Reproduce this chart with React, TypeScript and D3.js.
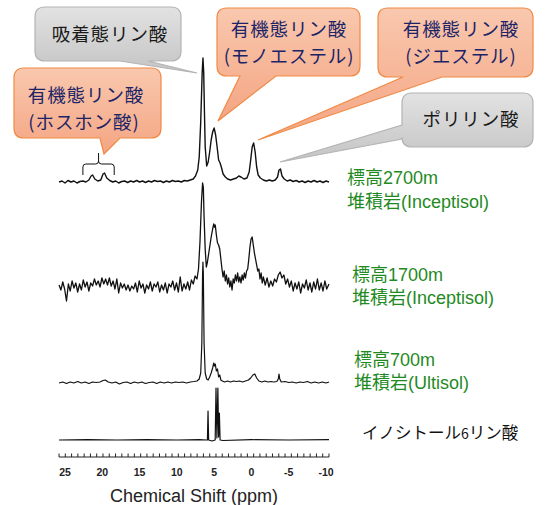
import React from "react";
import * as d3 from "d3";

// ---------- DATA (ppm, relative intensity) ----------
const tickLabels = [25, 20, 15, 10, 5, 0, -5, -10];

const spec2700: [number, number][] = [
  [25.8, 0], [25.4, 1], [25.0, -1], [24.6, 1.5], [24.2, 0], [23.8, 1], [23.4, -1], [23.0, 0.5], [22.6, 1],
  [22.2, 0], [21.8, 2], [21.5, 6], [21.3, 7], [21.0, 3], [20.6, 1], [20.2, 2], [19.9, 8], [19.7, 9], [19.4, 4],
  [19.0, 1.5], [18.6, 0], [18.2, 1], [17.8, -1], [17.4, 0.5], [17.0, 1], [16.6, -0.5], [16.2, 1], [15.8, 0],
  [15.4, 1.5], [15.0, 0], [14.6, 1], [14.2, -0.5], [13.8, 1], [13.4, 0], [13.0, 1.5], [12.6, 0.5], [12.2, 1],
  [11.8, -0.5], [11.4, 1], [11.0, 0], [10.6, 1.5], [10.2, 0.5], [9.8, 1], [9.4, 0], [9.0, 1.5], [8.6, 1],
  [8.2, 2], [7.8, 3], [7.5, 6], [7.2, 12], [7.0, 25], [6.8, 60], [6.6, 110], [6.5, 124], [6.4, 110], [6.3, 70],
  [6.2, 35], [6.0, 16], [5.8, 20], [5.6, 30], [5.4, 42], [5.2, 50], [5.0, 54], [4.8, 47], [4.6, 35], [4.4, 22],
  [4.2, 19], [4.0, 14], [3.8, 8], [3.5, 5], [3.2, 3], [2.8, 2], [2.4, 3], [2.0, 4], [1.7, 6], [1.4, 5], [1.0, 3],
  [0.6, 4], [0.3, 10], [0.1, 22], [-0.1, 35], [-0.3, 39], [-0.5, 30], [-0.7, 15], [-0.9, 7], [-1.2, 4],
  [-1.6, 2], [-2.0, 1], [-2.4, 2], [-2.8, 1], [-3.2, 2], [-3.5, 5], [-3.7, 12], [-3.9, 13], [-4.1, 6],
  [-4.4, 3], [-4.8, 1], [-5.2, 2], [-5.6, 0.5], [-6.0, 1.5], [-6.4, 0], [-6.8, 1], [-7.2, -0.5], [-7.6, 1],
  [-8.0, 0], [-8.4, 1.5], [-8.8, 0], [-9.2, 1], [-9.6, -0.5], [-10.0, 1], [-10.4, 0],
];

const spec1700: [number, number][] = [
  [25.8, 2], [25.55, -3], [25.3, 5], [25.05, -2], [24.8, -14], [24.55, 3], [24.3, -4], [24.05, 6], [23.8, -1],
  [23.55, 4], [23.3, -5], [23.05, 3], [22.8, -3], [22.55, 7], [22.3, 0], [22.05, 5], [21.8, -4], [21.55, 4],
  [21.3, 1], [21.05, 8], [20.8, 2], [20.55, 6], [20.3, 0], [20.05, 9], [19.8, 3], [19.55, 8], [19.3, 2],
  [19.05, 9], [18.8, 1], [18.55, 6], [18.3, -2], [18.05, 8], [17.8, -6], [17.55, 4], [17.3, -1], [17.05, 3],
  [16.8, -3], [16.55, 2], [16.3, -4], [16.05, 1], [15.8, -2], [15.55, 4], [15.3, -5], [15.05, 6], [14.8, -1],
  [14.55, 3], [14.3, -6], [14.05, 2], [13.8, -2], [13.55, 5], [13.3, -4], [13.05, 3], [12.8, 0], [12.55, 5],
  [12.3, -5], [12.05, 2], [11.8, -3], [11.55, 4], [11.3, -6], [11.05, 3], [10.8, 0], [10.55, 6], [10.3, -3],
  [10.05, 4], [9.8, -5], [9.55, 10], [9.3, -4], [9.05, 3], [8.8, -2], [8.55, 5], [8.3, -3], [8.05, 7],
  [7.8, 3], [7.55, 11], [7.3, 8], [7.1, 18], [6.9, 45], [6.7, 85], [6.55, 104], [6.45, 100], [6.35, 70],
  [6.2, 38], [6.05, 20], [5.9, 25], [5.7, 35], [5.5, 45], [5.35, 52], [5.2, 58], [5.05, 63], [4.95, 60],
  [4.85, 62], [4.7, 52], [4.55, 44], [4.4, 42], [4.25, 38], [4.1, 28], [3.95, 18], [3.8, 10], [3.65, 16],
  [3.5, 6], [3.35, 12], [3.2, 3], [3.05, 9], [2.9, 0], [2.75, 6], [2.6, -3], [2.45, 8], [2.3, 4], [2.15, 12],
  [2.0, 6], [1.85, 14], [1.7, 5], [1.55, 10], [1.4, 4], [1.25, 12], [1.1, 7], [0.95, 14], [0.8, 9],
  [0.65, 16], [0.5, 18], [0.35, 28], [0.2, 40], [0.05, 48], [-0.1, 50], [-0.25, 42], [-0.4, 34], [-0.55, 28],
  [-0.7, 22], [-0.85, 16], [-1.0, 18], [-1.15, 8], [-1.3, 14], [-1.45, 4], [-1.6, 10], [-1.85, 2], [-2.1, 9],
  [-2.35, 0], [-2.6, 6], [-2.85, 1], [-3.1, 8], [-3.35, 5], [-3.6, 12], [-3.85, 15], [-4.1, 9], [-4.35, 12],
  [-4.6, 3], [-4.85, 8], [-5.1, 0], [-5.35, 6], [-5.6, -4], [-5.85, 4], [-6.1, -2], [-6.35, 5], [-6.6, -6],
  [-6.85, 3], [-7.1, -1], [-7.35, 7], [-7.6, -3], [-7.85, 4], [-8.1, -5], [-8.35, 5], [-8.6, -2], [-8.85, 8],
  [-9.1, -3], [-9.35, 4], [-9.6, -4], [-9.85, 6], [-10.1, -2], [-10.4, 3],
];

const spec700: [number, number][] = [
  [25.8, 0], [25.3, 1], [24.8, -0.5], [24.3, 1], [23.8, 0], [23.3, 1.5], [22.8, 0], [22.3, 1], [21.8, -0.5],
  [21.3, 1], [20.8, 0.5], [20.3, 1], [19.9, 2.5], [19.6, 3], [19.2, 1], [18.7, 0], [18.2, 1], [17.7, -1],
  [17.2, 0.5], [16.7, 1], [16.2, -0.5], [15.7, 1], [15.2, 0], [14.7, 1], [14.2, -0.5], [13.7, 0.5], [13.2, 1],
  [12.7, -0.5], [12.2, 1], [11.7, 0], [11.2, 1], [10.7, 0], [10.2, 1], [9.7, 0.5], [9.2, 1], [8.7, 0], [8.2, 1],
  [7.7, 1.5], [7.3, 2], [7.0, 4], [6.8, 10], [6.65, 40], [6.55, 110], [6.5, 121], [6.45, 110], [6.35, 40],
  [6.2, 10], [6.0, 4], [5.8, 3], [5.6, 6], [5.4, 10], [5.2, 15], [5.05, 20], [4.95, 17], [4.85, 19], [4.7, 12],
  [4.55, 14], [4.4, 6], [4.25, 8], [4.1, 3], [3.9, 2], [3.6, 1], [3.2, 2], [2.8, 1], [2.4, 2], [2.0, 1.5],
  [1.6, 2], [1.2, 1], [0.8, 2], [0.4, 3], [0.1, 5], [-0.2, 8], [-0.45, 9], [-0.7, 5], [-1.0, 2], [-1.4, 1],
  [-1.8, 2], [-2.2, 1], [-2.6, 1.5], [-3.0, 1], [-3.4, 1.5], [-3.6, 4], [-3.7, 9], [-3.8, 4], [-4.0, 1],
  [-4.5, 1.5], [-5.0, 0.5], [-5.5, 1], [-6.0, 0], [-6.5, 1], [-7.0, 0.5], [-7.5, 1.5], [-8.0, 0], [-8.5, 1],
  [-9.0, 0], [-9.5, 1], [-10.0, 0], [-10.4, 1],
];

const specInositol: [number, number][] = [
  [25.8, 0], [22, 0.4], [18, 0], [14, 0.4], [10, 0], [7, 0.4], [6.0, 0], [5.9, 0], [5.82, 29], [5.74, 0],
  [5.3, -1], [4.86, 0], [4.75, 52], [4.63, 2], [4.5, 52], [4.4, 3], [4.3, 27], [4.2, 0], [3.8, -0.5],
  [0, 0.3], [-5, 0], [-10.4, 0.3],
];

const spectra = [
  { key: "s2700", data: spec2700, baseline: 182, width: 1.4 },
  { key: "s1700", data: spec1700, baseline: 287, width: 1.3 },
  { key: "s700", data: spec700, baseline: 383, width: 1.2 },
  { key: "sIno", data: specInositol, baseline: 440, width: 1.2 },
];

// ---------- helpers ----------
type Tail =
  | { side: "bottom"; a: number; b: number; tx: number; ty: number }
  | { side: "left"; a: number; b: number; tx: number; ty: number };

function bubblePath(x: number, y: number, w: number, h: number, r: number, t: Tail) {
  const R = x + w, B = y + h;
  let p = `M${x + r},${y} H${R - r} Q${R},${y} ${R},${y + r} V${B - r} Q${R},${B} ${R - r},${B} `;
  if (t.side === "bottom") {
    p += `H${t.b} L${t.tx},${t.ty} L${t.a},${B} H${x + r} Q${x},${B} ${x},${B - r} V${y + r} Q${x},${y} ${x + r},${y} Z`;
  } else {
    p += `H${x + r} Q${x},${B} ${x},${B - r} V${t.b} L${t.tx},${t.ty} L${x},${t.a} V${y + r} Q${x},${y} ${x + r},${y} Z`;
  }
  return p;
}

const CJK = "'Noto Sans CJK JP', 'Noto Sans', sans-serif";
const LAT = "'Liberation Sans', Arial, 'Noto Sans CJK JP', sans-serif";

export default function App() {
  const xScale = d3.scaleLinear().domain([25, -10]).range([65, 326]);
  const yScale = d3.scaleLinear().domain([0, 100]).range([0, -100]);
  const line = d3
    .line<[number, number]>()
    .x((d) => xScale(d[0]))
    .y((d) => yScale(d[1]));

  const axisY = 457;
  const minorTicks = d3.range(0, 44).map((i) => 25.8 - i * (36.2 / 43));

  // brace
  const bx0 = xScale(22.6), bx1 = xScale(18.4), bxc = (bx0 + bx1) / 2;
  const braceD = `M${bx0},175 V167 Q${bx0},164 ${bx0 + 3},164 H${bxc - 3} Q${bxc},164 ${bxc},161 V153 M${bxc},161 Q${bxc},164 ${bxc + 3},164 H${bx1 - 3} Q${bx1},164 ${bx1},167 V175`;

  const navy = "#1c2467";
  const green = "#1f8a1f";
  const fs = 18.5;
  const ls = 0.9;

  return (
    <svg width={545} height={505} style={{ position: "absolute", left: 0, top: 0, background: "#fff" }}>
      <defs>
        <linearGradient id="og" x1="0" y1="0" x2="0" y2="1">
          <stop offset="0" stopColor="#f9c8ae" />
          <stop offset="1" stopColor="#f4a583" />
        </linearGradient>
        <linearGradient id="gg" x1="0" y1="0" x2="0" y2="1">
          <stop offset="0" stopColor="#e2e2e2" />
          <stop offset="1" stopColor="#c4c4c4" />
        </linearGradient>
      </defs>

      {/* spectra */}
      {spectra.map((s) => (
        <g key={s.key} transform={`translate(0,${s.baseline})`}>
          <path d={line(s.data) || ""} fill="none" stroke="#111" strokeWidth={s.width} strokeLinejoin="round" />
        </g>
      ))}

      {/* brace */}
      <path d={braceD} fill="none" stroke="#111" strokeWidth={1} />

      {/* axis */}
      <line x1={xScale(25.8)} x2={xScale(-10.4)} y1={axisY} y2={axisY} stroke="#222" strokeWidth={1} />
      {minorTicks.map((t, i) => (
        <line key={i} x1={xScale(t)} x2={xScale(t)} y1={axisY} y2={axisY - 3.5} stroke="#222" strokeWidth={1} />
      ))}
      {tickLabels.map((t) => (
        <text key={t} x={xScale(t)} y={476} textAnchor="middle" fontFamily={LAT} fontWeight="bold" fontSize={10.5} fill="#222">
          {t}
        </text>
      ))}
      <text x={194} y={502} textAnchor="middle" fontFamily={LAT} fontSize={18} fill="#222">
        Chemical Shift (ppm)
      </text>

      {/* callouts */}
      <g fontFamily={CJK} fontSize={fs} letterSpacing={ls} textAnchor="middle">
        <path d={bubblePath(35, 7, 146, 54, 10, { side: "bottom", a: 120, b: 148, tx: 197, ty: 73 })} fill="url(#gg)" stroke="#b4b4b4" strokeWidth={1.2} />
        <text x={110} y={41} fill="#1a1a1a">吸着態リン酸</text>

        <path d={bubblePath(14, 68, 147, 70, 10, { side: "bottom", a: 100, b: 120, tx: 104, ty: 154 })} fill="url(#og)" stroke="#f08a45" strokeWidth={1.2} />
        <text x={86} y={102} fill={navy}>有機態リン酸</text>
        <text x={84} y={129} fill={navy}>(ホスホン酸)</text>

        <path d={bubblePath(217, 8, 143, 68, 10, { side: "bottom", a: 240, b: 276, tx: 218, ty: 121 })} fill="url(#og)" stroke="#f08a45" strokeWidth={1.2} />
        <text x={289} y={36} fill={navy}>有機態リン酸</text>
        <text x={289} y={63} fill={navy}>(モノエステル)</text>

        <path d={bubblePath(378, 8, 155, 69, 10, { side: "bottom", a: 403, b: 442, tx: 258, ty: 140 })} fill="url(#og)" stroke="#f08a45" strokeWidth={1.2} />
        <text x={461} y={36} fill={navy}>有機態リン酸</text>
        <text x={461} y={63} fill={navy}>(ジエステル)</text>

        <path d={bubblePath(402, 93, 131, 54, 10, { side: "left", a: 125, b: 139, tx: 280, ty: 162 })} fill="url(#gg)" stroke="#b4b4b4" strokeWidth={1.2} />
        <text x={471} y={126} fill="#1a1a1a">ポリリン酸</text>
      </g>

      {/* sample labels */}
      <g fontFamily={LAT} fontSize={18} fill={green}>
        <text x={347} y={184}>標高2700m</text>
        <text x={347} y={208}>堆積岩(Inceptisol)</text>
        <text x={352} y={281}>標高1700m</text>
        <text x={352} y={304}>堆積岩(Inceptisol)</text>
        <text x={354} y={366}>標高700m</text>
        <text x={354} y={389}>堆積岩(Ultisol)</text>
      </g>
      <text x={362} y={439} fontFamily={CJK} fontSize={16.5} fill="#111">
        イノシトール<tspan fontSize={14}>6</tspan>リン酸
      </text>
    </svg>
  );
}
